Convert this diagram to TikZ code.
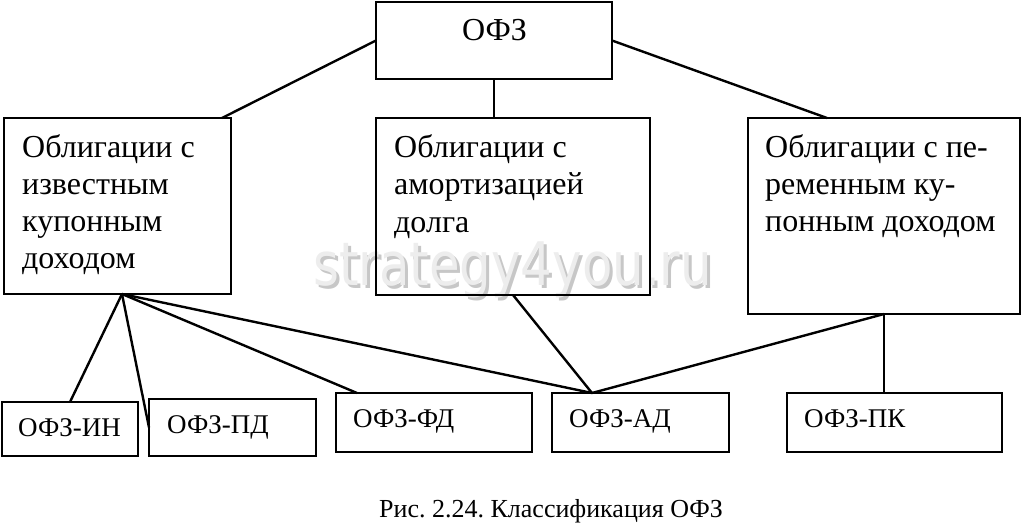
\documentclass[tikz,border=0pt]{standalone}
\usepackage{fontspec}
\setmainfont{Liberation Serif}
\newfontfamily\wmfont{DejaVu Sans}
\usetikzlibrary{calc}
\frenchspacing
\newcommand\wmtext{\scalebox{0.83}[1]{strategy4you.ru}}
\begin{document}
\begin{tikzpicture}[x=1pt,y=-1pt,
  box/.style={draw=black, line width=1.8pt, inner sep=0pt, outer sep=0pt, anchor=north west},
  conn/.style={line width=2.4pt, draw=black},
  big/.style={font=\fontsize{32}{37}\selectfont, inner sep=0pt, anchor=base west},
  small/.style={font=\fontsize{27}{32}\selectfont, inner sep=0pt, anchor=base west},
  wmark/.style={inner sep=0pt, anchor=base west, font=\wmfont\fontsize{60}{60}\selectfont}]
\useasboundingbox (0,0) rectangle (1024,524);
\fill[white] (0,0) rectangle (1024,524);
% watermark (text with its shadow, one node)
\node[wmark] (wm) at (313,285) {\makebox[0pt][l]{\hspace{3pt}\raisebox{-3pt}{\color{black!22}\wmtext}}{\color{black!7}\wmtext}};
% boxes
\node[box, minimum width=236, minimum height=77] (ofz) at (376,2) {};
\node[box, minimum width=227, minimum height=176] (b1) at (4,118) {};
\node[box, minimum width=274, minimum height=177] (b2) at (376,118) {};
\node[box, minimum width=272, minimum height=196] (b3) at (748,118) {};
\node[box, minimum width=136, minimum height=54] (in) at (2,402) {};
\node[box, minimum width=167, minimum height=57] (pd) at (149,399) {};
\node[box, minimum width=196, minimum height=59] (fd) at (336,393) {};
\node[box, minimum width=177, minimum height=59] (ad) at (552,393) {};
\node[box, minimum width=215, minimum height=59] (pk) at (787,393) {};
% texts
\node[big] (tofz) at (462,41) {ОФЗ};
\foreach \t [count=\i] in {Облигации с, известным, купонным, доходом}
  \node[big] (t1-\i) at (22,157+37*\i-37) {\t};
\foreach \t [count=\i] in {Облигации с, амортизацией, долга}
  \node[big] (t2-\i) at (394,157+37.5*\i-37.5) {\t};
\foreach \t [count=\i] in {Облигации с пе-, ременным ку-, понным доходом}
  \node[big] (t3-\i) at (765,157+37*\i-37) {\t};
\node[small] (tin) at (18,436) {ОФЗ-ИН};
\node[small] (tpd) at (167,433) {ОФЗ-ПД};
\node[small] (tfd) at (353,427) {ОФЗ-ФД};
\node[small] (tad) at (569,427) {ОФЗ-АД};
\node[small] (tpk) at (804,427) {ОФЗ-ПК};
\node[inner sep=0pt, anchor=base west, font=\fontsize{26}{30}\selectfont] (cap) at (379,517) {Рис. 2.24. Классификация ОФЗ};
% connectors
\coordinate (b1b) at ($(b1.south)+(4.5,0)$);
\coordinate (adt) at ($(ad.north west)+(40,0)$);
\draw[conn] (ofz.west) -- ($(b1.north west)+(218,0)$);
\draw[conn] (ofz.south) -- (ofz.south |- b2.north);
\draw[conn] (ofz.east) -- ($(b3.north west)+(79,0)$);
\draw[conn] (b1b) -- (in.north);
\draw[conn] (b1b) -- (pd.west);
\draw[conn] (b1b) -- ($(fd.north west)+(21,0)$);
\draw[conn] (b1b) -- (adt);
\draw[conn] (b2.south) -- (adt);
\draw[conn] (b3.south) -- (adt);
\draw[conn, line width=2pt] (b3.south) -- (b3.south |- pk.north);
\end{tikzpicture}
\end{document}
